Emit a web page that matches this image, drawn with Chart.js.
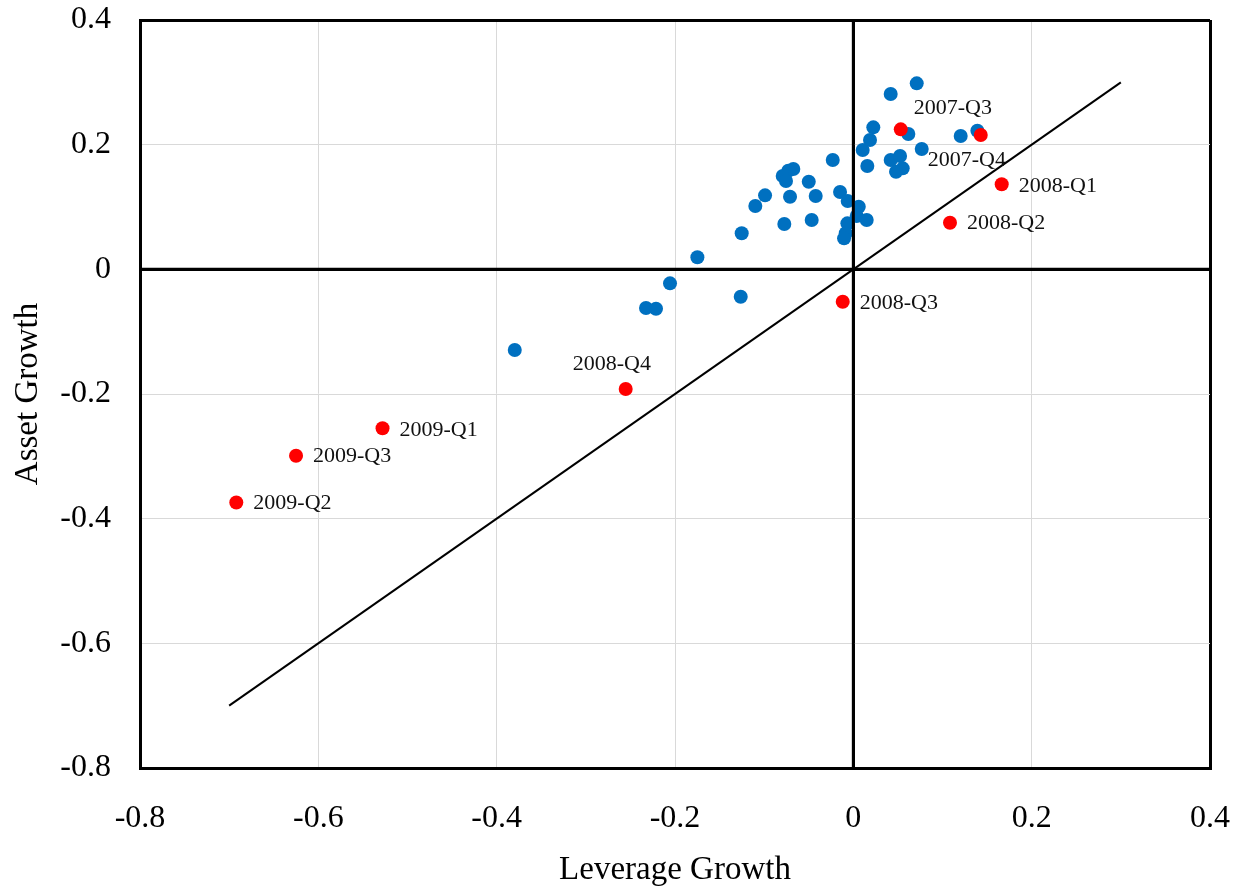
<!DOCTYPE html>
<html><head><meta charset="utf-8">
<script src="https://cdn.jsdelivr.net/npm/chart.js@4/dist/chart.umd.min.js"></script>
<style>html,body{margin:0;padding:0;background:#fff}canvas{display:block}</style>
</head><body>
<canvas id="c" width="1235" height="890"></canvas>
<script>
// ---- data ----
const blueX = [0.0224,0.0187,0.0105,-0.0231,0.0157,-0.0673,-0.0729,-0.0792,-0.0755,-0.0500,
  -0.0990,-0.0710,-0.0422,-0.0149,-0.1099,-0.0063,0.0061,0.0038,0.0150,-0.0467,
  -0.0774,-0.0067,-0.0085,-0.0104,-0.1252,0.0711,0.0419,0.0617,0.0767,0.1204,
  0.1391,0.0419,0.0524,0.0554,0.0479,-0.1749,-0.2056,-0.2325,-0.2213,-0.1263,-0.3797];
const blueY = [0.2278,0.2074,0.1914,0.1754,0.1657,0.1609,0.1582,0.1497,0.1417,0.1405,
  0.1187,0.1165,0.1176,0.1240,0.1016,0.1096,0.1004,0.0855,0.0791,0.0791,
  0.0727,0.0738,0.0578,0.0497,0.0578,0.2984,0.2812,0.2171,0.1930,0.2139,
  0.2224,0.1754,0.1818,0.1620,0.1566,0.0193,-0.0225,-0.0621,-0.0632,-0.0440,-0.1295];
const redLabels = ['2007-Q3','2007-Q4','2008-Q1','2008-Q2','2008-Q3','2008-Q4','2009-Q1','2009-Q2','2009-Q3'];
const redX = [0.0532,0.1429,0.1664,0.1084,-0.0119,-0.2553,-0.528,-0.692,-0.625];
const redY = [0.2246,0.2155,0.1364,0.0748,-0.052,-0.192,-0.255,-0.374,-0.299];
const lineX = [-0.7, 0.3];
const lineY = [-0.7, 0.3];
const xTickValues = [-0.8,-0.6,-0.4,-0.2,0,0.2,0.4];
const xTickLabels = ['-0.8','-0.6','-0.4','-0.2','0','0.2','0.4'];
const yTickValues = [-0.8,-0.6,-0.4,-0.2,0,0.2,0.4];
const yTickLabels = ['-0.8','-0.6','-0.4','-0.2','0','0.2','0.4'];
const xTitle = 'Leverage Growth';
const yTitle = 'Asset Growth';

// ---- styling ----
const FONT = 'Liberation Serif, Times New Roman, serif';
const labelOffsets = {
  '2007-Q3': [13, -21], '2007-Q4': [-53, 25], '2008-Q1': [17, 2], '2008-Q2': [17, 1],
  '2008-Q3': [17, 1], '2008-Q4': [-53, -25], '2009-Q1': [17, 2], '2009-Q2': [17, 1], '2009-Q3': [17, 1]
};
const isEdgeOrZero = v => Math.abs(v) < 1e-9 || Math.abs(v - 0.4) < 1e-9 || Math.abs(v + 0.8) < 1e-9;

const overlay = {
  id: 'overlay',
  afterDatasetsDraw(chart) {
    const {ctx, chartArea: a, scales: {x, y}} = chart;
    const px = x.getPixelForValue(0), py = y.getPixelForValue(0);
    ctx.save();
    ctx.strokeStyle = '#000'; ctx.lineWidth = 3;
    ctx.beginPath();
    ctx.moveTo(px, a.top); ctx.lineTo(px, a.bottom);
    ctx.moveTo(a.left, py); ctx.lineTo(a.right, py);
    ctx.stroke();
    ctx.font = '22px ' + FONT;
    ctx.fillStyle = '#111';
    ctx.textAlign = 'left'; ctx.textBaseline = 'middle';
    redLabels.forEach((lab, i) => {
      const o = labelOffsets[lab] || [17, 0];
      ctx.fillText(lab, x.getPixelForValue(redX[i]) + o[0], y.getPixelForValue(redY[i]) + o[1]);
    });
    ctx.restore();
  }
};

const gridOpts = {
  color: c => (c.tick && isEdgeOrZero(c.tick.value)) ? '#000' : '#d9d9d9',
  lineWidth: c => (c.tick && isEdgeOrZero(c.tick.value)) ? 3 : 1,
  drawTicks: false
};

new Chart(document.getElementById('c'), {
  type: 'scatter',
  data: {
    datasets: [
      { label: 'red', order: 0, data: redX.map((v, i) => ({x: v, y: redY[i]})),
        backgroundColor: '#ff0000', borderWidth: 0, pointRadius: 7 },
      { label: 'blue', order: 1, data: blueX.map((v, i) => ({x: v, y: blueY[i]})),
        backgroundColor: '#0070c0', borderWidth: 0, pointRadius: 7 },
      { label: 'line', order: 2, type: 'line', data: lineX.map((v, i) => ({x: v, y: lineY[i]})),
        borderColor: '#000', borderWidth: 2, pointRadius: 0, showLine: true, fill: false }
    ]
  },
  options: {
    responsive: false, animation: false, devicePixelRatio: 1,
    layout: { padding: { top: 20, right: 25, left: 0, bottom: 0 } },
    plugins: { legend: { display: false }, tooltip: { enabled: false } },
    scales: {
      x: {
        type: 'linear', min: -0.8, max: 0.4,
        afterBuildTicks: s => { s.ticks = xTickValues.map(v => ({value: v})); },
        afterFit: s => { s.height = 122; s.paddingLeft = 0; s.paddingRight = 0; },
        ticks: { callback: (v) => xTickLabels[xTickValues.findIndex(t => Math.abs(t - v) < 1e-9)],
          font: { family: FONT, size: 32 }, color: '#000', padding: 31, maxRotation: 0, autoSkip: false },
        grid: gridOpts,
        border: { display: true, color: '#000', width: 3 },
        title: { display: true, text: xTitle, font: { family: FONT, size: 33 }, color: '#000', padding: { top: 0, bottom: 0 } }
      },
      y: {
        type: 'linear', min: -0.8, max: 0.4,
        afterBuildTicks: s => { s.ticks = yTickValues.map(v => ({value: v})); },
        afterFit: s => { s.width = 140; s.paddingTop = 0; s.paddingBottom = 0; },
        ticks: { callback: (v) => yTickLabels[yTickValues.findIndex(t => Math.abs(t - v) < 1e-9)],
          font: { family: FONT, size: 32 }, color: '#000', padding: 29, autoSkip: false },
        grid: gridOpts,
        border: { display: true, color: '#000', width: 3 },
        title: { display: true, text: yTitle, font: { family: FONT, size: 33 }, color: '#000', padding: { top: 9, bottom: 0 } }
      }
    }
  },
  plugins: [overlay]
});
</script>
</body></html>
